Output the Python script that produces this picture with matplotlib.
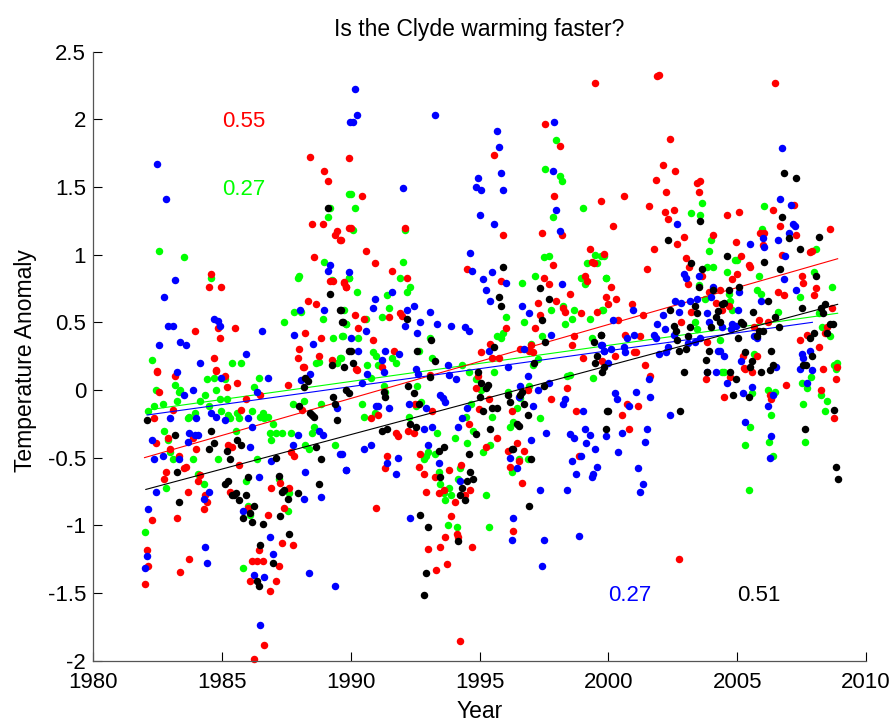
"""
Monthly temperature anomalies for the Clyde, with a linear trend for each site
"""

import numpy as np
import matplotlib.pyplot as plt

plt.rcParams['font.family'] = ['Liberation Sans', 'DejaVu Sans']

# (year, anomaly) pairs
green_points = [
    (1982.56,1.027),(1983.53,.98),(1984.57,.83),(1987.95,.83),(1988.01,.843),(1988.98,.948),(1989.13,1.279),(1989.19,1.343),
    (1989.95,1.449),(1987.82,.579),(1988.09,.579),(1988.92,.527),(1989.75,.591),(1987.4,.5),(1989.81,.488),(1989.27,.815),
    (1989.95,.825),(1982.29,.224),(1985.4,.2),(1985.75,.2),(1989.68,.397),(1989.33,.382),(1989.6,.239),(1988.65,.2),
    (1988.78,.21),(1989.48,.2),(1984.43,.079),(1984.71,.09),(1985.13,.079),(1986.43,.09),(1983.19,.04),(1982.43,0),
    (1983.39,0),(1983.33,-.015),(1984.78,0),(1986.23,.025),(1984.36,-.04),(1983.26,-.079),(1984.15,-.079),(1984.92,-.067),
    (1985.19,-.067),(1982.7,-.106),(1984.5,-.118),(1982.36,-.118),(1982.15,-.158),(1984.98,-.158),(1986.16,-.158),
    (1983.95,-.17),(1987.75,-.106),(1988.17,-.079),(1988.85,-.106),(1983.74,-.197),(1983.68,-.21),(1985.25,-.185),
    (1985.33,-.21),(1985.6,-.172),(1985.67,-.21),(1986.58,-.172),(1986.5,-.197),(1986.64,-.21),(1986.78,-.197),
    (1986.99,-.249),(1982.77,-.303),(1985.54,-.303),(1986.85,-.315),(1987.12,-.315),(1987.33,-.315),(1987.68,-.315),
    (1988.58,-.276),(1988.5,-.315),(1982.91,-.37),(1986.91,-.37),(1988.23,-.409),(1988.37,-.434),(1989.4,-.409),
    (1982.98,-.46),(1983.12,-.512),(1983.88,-.512),(1984.84,-.512),(1986.37,-.512),(1984.09,-.618),(1985.95,-.67),
    (1987.2,-.658),(1984.3,-.697),(1982.85,-.724),(1987.61,-.764),(1986.02,-.855),(1986.1,-.921),(1987.55,-.897),
    (1982.02,-1.052),(1985.81,-1.316),(1990.03,1.449),(1990.16,1.343),(1990.1,1.185),(1992.09,1.185),(1992.03,.948),
    (1989.95,.83),(1991.9,.83),(1990.24,.724),(1992.3,.764),(1992.17,.724),(1991.4,.7),(1991.48,.606),(1991.2,.539),
    (1990.58,.527),(1989.82,.488),(1989.7,.397),(1990.3,.382),(1990.85,.278),(1990.99,.251),(1991.61,.239),(1991.75,.2),
    (1990.65,.185),(1991.07,.185),(1989.63,.239),(1993.06,.382),(1992.65,.291),(1993.14,.239),(1994.32,.185),
    (1997.97,1.845),(1997.55,1.633),(1998.11,1.582),(1998.19,1.542),(1997.84,1.279),(1999.0,1.343),(1997.49,.98),
    (1997.69,.988),(1999.49,1.0),(1999.7,.988),(1999.84,.988),(1999.16,.936),(1999.56,.936),(1998.95,.83),(1999.08,.78),
    (1997.15,.843),(1996.66,.791),(1999.91,.83),(1998.25,.618),(1998.65,.594),(1997.76,.594),(1999.78,.594),(1996.04,.539),
    (1996.73,.5),(1998.59,.527),(1999.29,.527),(1998.32,.488),(1995.9,.421),(1995.69,.397),(1995.83,.382),(1997.41,.397),
    (1999.35,.382),(1997.01,.342),(1997.28,.229),(1997.07,.185),(1994.59,.13),(1995.55,.13),(1990.8,.09),(1994.85,.079),
    (1992.59,.027),(1991.28,.027),(1995.07,0),(1996.1,-.012),(1996.93,.027),(1996.59,-.06),(1998.39,.106),(1998.52,.11),
    (1999.41,.09),(1990.45,-.106),(1992.72,-.09),(1992.52,-.118),(1994.67,-.106),(1996.45,-.13),(1990.93,-.17),
    (1990.51,-.197),(1991.34,-.012),(1992.25,-.197),(1994.46,-.197),(1995.48,-.197),(1997.35,-.21),(1996.31,-.236),
    (1996.17,-.276),(1994.73,-.303),(1993.35,-.315),(1994.03,-.355),(1994.51,-.394),(1995.42,-.409),(1993.0,-.46),
    (1993.27,-.473),(1992.92,-.488),(1992.85,-.512),(1995.13,-.46),(1996.52,-.512),(1996.87,-.512),(1994.24,-.579),
    (1993.41,-.606),(1996.25,-.606),(1994.16,-.658),(1993.48,-.697),(1993.82,-.724),(1993.63,-.764),(1993.9,-.776),
    (1993.68,-.815),(1995.27,-.776),(1993.76,-1.0),(1994.11,-1.012),(1995.35,-1.012),(2003.64,1.384),(2003.22,1.306),
    (2003.56,1.293),(2006.05,1.357),(2005.98,1.187),(2003.99,1.106),(2003.91,1.027),(2008.05,1.04),(2004.91,.961),
    (2005.0,.961),(2003.84,.909),(2004.05,.909),(2004.6,.87),(2005.84,.843),(2007.97,.872),(1999.9,.83),(2003.5,.776),
    (2008.67,.764),(2005.77,.739),(2005.92,.712),(2007.43,.685),(2003.77,.673),(2004.67,.712),(2004.74,.66),(1999.77,.594),
    (2006.6,.579),(2004.8,.594),(2003.35,.5),(2008.19,.567),(2003.44,.448),(2008.31,.463),(2008.6,.397),(2004.32,.37),
    (2005.64,.263),(2008.75,.185),(2008.88,.197),(2008.82,.158),(2004.43,.13),(2004.48,.13),(2007.85,.094),(2007.5,.052),
    (2007.72,.012),(2006.19,0),(2006.47,-.012),(2005.57,-.025),(2008.26,-.04),(2008.48,-.079),(2007.57,-.106),(2008.4,-.158),
    (2006.33,-.185),(2005.5,-.276),(2006.25,-.382),(2007.64,-.382),(2005.29,-.409),(2006.4,-.488),(2005.44,-.737),
]
red_points = [
    (1984.57,.857),(1984.5,.764),(1984.98,.764),(1984.84,.461),(1985.53,.461),(1983.95,.434),(1984.91,.382),(1984.71,.239),
    (1984.78,.148),(1982.5,.138),(1988.43,1.725),(1988.98,1.621),(1989.13,1.542),(1989.95,1.712),(1988.5,1.227),(1988.92,1.227),
    (1989.48,1.173),(1989.4,1.146),(1989.6,1.106),(1989.95,1.2),(1988.57,.98),(1989.19,.803),(1989.33,.803),(1989.75,.791),
    (1989.81,.764),(1988.36,.66),(1988.65,.633),(1988.23,.421),(1988.85,.382),(1988.01,.303),(1987.95,.239),(1988.78,.251),
    (1989.27,.224),(1988.16,.172),(1982.5,.13),(1983.19,.103),(1984.78,.143),(1985.13,.103),(1985.19,.025),(1985.6,.052),
    (1982.56,-.015),(1987.55,.04),(1985.95,-.067),(1986.5,-.04),(1988.17,.17),(1985.75,-.145),(1983.12,-.145),(1982.36,-.21),
    (1988.12,-.148),(1982.91,-.355),(1983.88,-.355),(1982.43,-.394),(1982.98,-.434),(1984.01,-.434),(1985.25,-.409),
    (1985.4,-.421),(1983.33,-.488),(1987.68,-.46),(1987.82,-.488),(1985.67,-.554),(1983.6,-.567),(1983.53,-.579),
    (1982.85,-.606),(1982.77,-.658),(1984.15,-.63),(1984.09,-.67),(1987.26,-.685),(1986.91,-.724),(1987.61,-.724),
    (1983.68,-.751),(1985.33,-.751),(1984.36,-.776),(1984.43,-.83),(1984.3,-.882),(1986.02,-.87),(1987.4,-.87),
    (1982.29,-.96),(1983.26,-.948),(1986.78,-.921),(1982.08,-1.185),(1982.15,-1.303),(1982.02,-1.434),(1986.43,-1.185),
    (1987.33,-1.133),(1987.75,-1.146),(1983.74,-1.251),(1986.16,-1.264),(1986.37,-1.264),(1986.58,-1.264),(1987.2,-1.303),
    (1983.39,-1.343),(1986.1,-1.409),(1987.12,-1.409),(1986.85,-1.488),(1986.64,-1.882),(1986.23,-1.988),
    (1999.5,2.267),(1997.55,1.963),(1998.11,1.806),(1995.55,1.739),(1990.45,1.436),(1997.9,1.436),(1999.7,1.397),
    (1990.03,1.2),(1992.09,1.2),(1995.9,1.146),(1997.41,1.16),(1998.19,1.146),(1989.62,1.106),(1990.58,1.027),(1999.29,1.04),
    (1999.84,1.003),(1990.93,.936),(1994.51,.894),(1991.61,.882),(1992.17,.83),(1997.84,.921),(1999.35,.948),(1999.43,.936),
    (1999.08,.843),(1997.49,.83),(1999.16,.803),(1989.76,.796),(1989.82,.764),(1995.83,.803),(1997.69,.78),(1998.52,.712),
    (1997.28,.646),(1997.97,.66),(1999.91,.685),(1999.97,.633),(1998.24,.606),(1998.32,.579),(1998.94,.567),(1999.56,.579),
    (1991.9,.567),(1992.0,.547),(1990.16,.554),(1990.51,.527),(1991.48,.539),(1997.35,.554),(1990.3,.461),(1997.14,.461),
    (1996.04,.461),(1990.85,.37),(1998.65,.397),(1995.42,.342),(1998.59,.33),(1997.01,.33),(1996.59,.303),(1996.94,.291),
    (1997.07,.278),(1995.07,.278),(1991.69,.291),(1995.48,.239),(1995.75,.239),(1999.0,.239),(1991.2,.172),(1990.21,.153),
    (1999.75,.212),(1990.24,.145),(1993.06,.11),(1994.93,.106),(1994.86,.012),(1995.35,-.067),(1994.99,-.143),(1993.14,-.158),
    (1996.25,-.158),(1990.78,-.21),(1991.05,-.185),(1992.5,-.106),(1994.59,-.249),(1997.76,-.067),(1998.38,.012),(1998.73,-.158),
    (1996.87,0),(1991.75,-.315),(1991.82,-.342),(1992.23,-.3),(1992.44,-.315),(1995.69,-.355),(1996.45,-.394),(1995.26,-.421),
    (1996.09,-.448),(1996.73,-.448),(1992.71,-.473),(1991.4,-.488),(1998.86,-.488),(1994.3,-.552),(1996.52,-.527),(1991.34,-.579),
    (1992.65,-.567),(1996.17,-.567),(1993.82,-.591),(1992.85,-.618),(1993.27,-.645),(1996.66,-.685),(1994.65,-.737),
    (1993.62,-.737),(1992.93,-.751),(1993.41,-.764),(1994.45,-.776),(1994.03,-.83),(1991.0,-.87),(1993.9,-.934),(1994.11,-1.067),
    (1994.15,-1.084),(1996.31,-1.04),(1993.68,-1.09),(1993.48,-1.158),(1994.72,-1.158),(1992.99,-1.173),(1993.75,-1.289),
    (1993.33,-1.33),(1994.25,-1.858),(2001.97,2.33),(2001.9,2.318),(2006.46,2.267),(2002.38,1.858),(2002.11,1.66),(2002.6,1.621),
    (2001.84,1.555),(2003.43,1.53),(2003.56,1.542),(2003.5,1.461),(2002.25,1.461),(2000.6,1.436),(2001.57,1.357),(2002.54,1.33),
    (2002.19,1.316),(2004.6,1.291),(2005.09,1.318),(2006.4,1.33),(2007.22,1.37),(2002.32,1.264),(2000.18,1.212),(2006.68,1.212),
    (2008.61,1.187),(2004.05,1.146),(2005.9,1.16),(2006.06,1.16),(2002.95,1.133),(2007.3,1.146),(2004.95,1.094),(2002.67,1.082),
    (2005.99,1.069),(2001.77,1.042),(2007.9,1.025),(2007.82,1.018),(2005.15,.988),(2006.74,1.0),(2003.02,.976),(2003.15,.909),
    (2001.49,.897),(2005.45,.921),(2005.51,.909),(2003.64,.843),(2005.01,.857),(2004.8,.818),(2007.5,.843),(2007.57,.791),
    (2000.12,.764),(2003.08,.78),(2008.05,.751),(2006.6,.724),(2006.81,.7),(2007.97,.7),(2004.32,.739),(2003.91,.727),
    (2000.31,.673),(2000.93,.633),(2004.18,.646),(2003.22,.579),(2004.4,.594),(2004.67,.618),(2008.67,.606),(2000.39,.515),
    (2001.35,.554),(2002.81,.5),(2005.84,.515),(2006.19,.5),(2005.64,.463),(2008.47,.463),(2008.4,.424),(2001.22,.397),
    (2000.66,.409),(2007.71,.409),(2007.43,.37),(2003.83,.357),(2008.19,.318),(2000.25,.251),(2001.01,.278),(2001.09,.278),
    (2005.77,.251),(2005.23,.251),(2001.42,.185),(2008.88,.172),(2005.28,.16),(2008.34,.153),(2001.63,.106),(2008.82,.079),
    (2003.78,.079),(2005.29,.158),(2005.58,.13),(2004.74,.094),(2006.89,.04),(2004.47,-.052),(2008.26,0),(2006.27,-.04),
    (2006.33,-.067),(2000.74,-.106),(2001.15,-.118),(2000.53,-.185),(2000.8,-.288),(2008.75,-.21),(2002.73,-1.251),
]
blue_points = [
    (1982.50,1.673),(1982.85,1.409),(1983.19,.815),(1982.77,.685),(1982.91,.475),(1983.12,.475),(1982.56,.33),(1983.39,.355),
    (1983.60,.33),(1984.70,.527),(1984.84,.512),(1984.91,.475),(1984.16,.20),(1985.95,.263),(1986.56,.434),(1987.82,.409),
    (1988.52,.342),(1988.03,.591),(1988.98,.591),(1989.13,.882),(1989.19,.921),(1989.95,.87),(1989.97,1.978),(1983.26,.13),
    (1983.88,0),(1983.53,-.04),(1984.98,.09),(1986.78,.09),(1986.36,-.015),(1984.57,-.17),(1984.78,-.197),(1984.01,-.21),
    (1982.98,-.21),(1985.13,-.224),(1986.02,-.21),(1986.16,-.276),(1983.74,-.315),(1983.96,-.33),(1984.09,-.33),(1983.68,-.382),
    (1982.29,-.37),(1986.10,-.421),(1982.70,-.488),(1982.36,-.512),(1983.33,-.512),(1986.91,-.527),(1986.43,-.645),(1982.43,-.751),
    (1984.49,-.751),(1984.30,-.803),(1982.15,-.882),(1985.81,-.897),(1984.36,-1.16),(1984.43,-1.276),(1986.85,-1.09),
    (1986.99,-1.212),(1982.08,-1.225),(1982.02,-1.318),(1986.23,-1.37),(1986.64,-1.382),(1986.50,-1.737),(1988.37,-1.355),
    (1989.40,-1.449),(1988.09,.076),(1988.44,.118),(1989.48,-.133),(1987.75,-.409),(1987.96,-.33),(1988.78,-.303),(1988.92,-.33),
    (1988.23,-.606),(1988.17,-.803),(1988.85,-.789),(1989.60,-.473),(1989.81,-.591),(1990.16,2.227),(1990.23,2.03),(1990.10,1.978),
    (1993.27,2.03),(1992.03,1.49),(1991.6,.724),(1990.93,.673),(1990.85,.606),(1992.17,.594),(1992.44,.618),(1993.06,.579),
    (1992.71,.50),(1992.09,.475),(1993.35,.488),(1993.90,.475),(1994.45,.463),(1994.59,.434),(1992.58,.421),(1990.58,.436),
    (1990.02,.382),(1990.30,.291),(1991.34,.291),(1991.88,.263),(1991.20,.224),(1993.76,.185),(1992.52,.153),(1995.69,1.912),
    (1995.75,1.794),(1995.83,1.606),(1994.93,1.569),(1994.86,1.503),(1995.07,1.476),(1995.90,1.476),(1995.0,1.291),(1995.55,1.227),
    (1994.65,1.015),(1994.72,.882),(1995.48,.87),(1995.13,.818),(1996.04,.791),(1995.27,.739),(1995.42,.66),(1996.66,.618),
    (1996.94,.567),(1997.90,1.978),(1997.84,1.621),(1997.97,1.33),(1998.11,1.173),(1998.19,.78),(1997.76,.409),(1996.73,.303),
    (1995.35,.291),(1996.10,.172),(1999.72,.33),(1999.82,.29),(1999.97,.197),(1992.63,.118),(1991.28,.13),(1990.65,.118),
    (1990.45,.052),(1993.82,.108),(1994.08,.079),(1996.87,.106),(1996.59,.027),(1996.52,-.054),(1997.28,0),(1997.69,.052),
    (1993.48,-.034),(1993.58,-.06),(1993.68,-.09),(1992.25,-.106),(1990.99,-.118),(1991.05,-.118),(1991.48,-.13),(1992.93,-.13),
    (1994.52,-.13),(1997.07,-.118),(1998.25,-.106),(1998.32,-.067),(1999.0,-.158),(1994.32,-.21),(1994.17,-.276),(1992.85,-.288),
    (1993.14,-.276),(1997.57,-.315),(1996.99,-.37),(1993.0,-.409),(1990.78,-.409),(1990.51,-.434),(1989.66,-.473),(1998.52,-.328),
    (1998.67,-.355),(1999.08,-.288),(1999.29,-.33),(1999.15,-.394),(1999.49,-.434),(1999.9,-.343),(1998.59,-.527),(1998.94,-.488),
    (1998.73,-.618),(1999.56,-.567),(1999.42,-.618),(1999.35,-.645),(1991.83,-.5),(1991.40,-.54),(1991.75,-.618),(1989.82,-.591),
    (1993.41,-.54),(1996.17,-.5),(1996.45,-.579),(1997.35,-.737),(1998.38,-.737),(1994.24,-.67),(1992.30,-.948),(1996.31,-.948),
    (1996.25,-1.106),(1997.49,-1.106),(1998.86,-1.079),(1997.41,-1.303),(2006.74,1.791),(2006.68,1.409),(2007.09,1.37),
    (2007.15,1.227),(2007.24,1.212),(2002.67,1.227),(2007.02,1.16),(2005.99,1.12),(2006.60,1.109),(2005.50,1.08),(2006.05,1.054),
    (2006.87,.988),(2002.95,.857),(2003.02,.83),(2003.51,.843),(2006.81,.818),(2007.30,.739),(2004.05,.764),(2005.09,.724),
    (2003.99,.685),(2003.43,.673),(2003.16,.66),(2002.60,.66),(2002.81,.646),(2005.92,.66),(2002.73,.579),(2002.11,.554),
    (2005.02,.594),(2003.83,.567),(2000.94,.594),(2000.19,.515),(2001.90,.488),(2003.91,.503),(2002.19,.448),(2004.40,.463),
    (2004.80,.488),(2004.94,.475),(2004.75,.448),(2001.01,.409),(2001.77,.409),(2001.84,.382),(2000.74,.382),(2002.54,.409),
    (2003.56,.382),(2003.35,.357),(2003.08,.345),(2005.64,.397),(2005.77,.382),(2002.32,.318),(2000.6,.318),(1999.75,.33),
    (2000.10,.303),(1999.84,.291),(2000.66,.278),(2002.25,.278),(2001.98,.263),(2004.26,.291),(2004.32,.291),(2004.47,.251),
    (2005.15,.212),(2007.51,.263),(2007.57,.239),(2007.84,.291),(2006.49,.17),(2007.43,.158),(2007.92,.145),(2003.83,.13),
    (2004.18,.13),(2004.6,.052),(2005.57,.025),(2005.23,-.025),(2007.72,.052),(2006.4,-.04),(2006.2,-.118),(2001.57,.079),
    (2000.25,-.025),(2000.32,-.067),(2001.07,-.012),(2001.63,-.052),(2000.80,-.118),(2002.40,-.185),(2005.29,-.236),(2001.5,-.288),
    (2000.53,-.315),(2001.44,-.382),(2000.39,-.46),(2006.33,-.343),(2006.27,-.5),(2001.15,-.579),(2001.36,-.697),(2001.22,-.751),
]
black_points = [
    (1989.13,1.343),(1989.19,.712),(1989.6,.591),(1989.68,.5),(1989.95,.291),(1989.27,.185),(1989.75,.172),(1982.08,-.224),
    (1983.19,-.33),(1984.57,-.303),(1984.71,-.394),(1984.5,-.434),(1985.6,-.37),(1985.75,-.409),(1985.19,-.448),(1985.33,-.512),
    (1983.26,-.606),(1986.02,-.645),(1987.12,-.5),(1987.2,-.633),(1988.65,-.421),(1988.85,-.512),(1985.25,-.67),(1985.13,-.697),
    (1988.78,-.697),(1987.4,-.737),(1987.33,-.751),(1987.96,-.764),(1985.54,-.764),(1985.46,-.776),(1985.39,-.776),(1985.95,-.776),
    (1985.67,-.815),(1987.55,-.803),(1983.33,-.83),(1986.23,-.855),(1986.1,-.909),(1985.81,-.948),(1986.16,-.973),(1986.58,-.988),
    (1987.26,-.934),(1987.61,-1.067),(1986.5,-1.146),(1986.99,-1.276),(1986.37,-1.409),(1986.43,-1.449),(1988.23,.09),(1988.36,.064),
    (1988.17,.025),(1988.01,-.118),(1988.44,-.17),(1988.5,-.185),(1988.58,-.197),(1989.48,-.224),(1989.4,-.106),(1989.33,-.052),
    (1989.83,0),(1989.95,-.025),(1989.63,.591),(1989.7,.5),(1992.17,.527),(1990.02,.291),(1992.58,.291),(1993.13,.37),(1990.1,.2),
    (1993.27,.212),(1995.9,.909),(1995.77,.685),(1995.83,.618),(1997.33,.751),(1997.69,.673),(1997.41,.515),(1997.55,.357),
    (1995.55,.318),(1997.1,.197),(1999.7,.409),(1999.43,.357),(1999.56,.251),(1999.5,.197),(1999.84,.172),(1993.06,.094),
    (1992.23,.027),(1992.44,-.025),(1991.28,-.012),(1991.34,-.052),(1994.93,.13),(1995.07,.052),(1995.34,.04),(1995.26,.012),
    (1992.65,-.106),(1995.0,-.052),(1996.1,-.037),(1996.17,-.09),(1996.65,-.012),(1996.58,-.04),(1997.49,.027),(1996.73,-.106),
    (1995.14,-.158),(1995.48,-.13),(1995.69,-.13),(1996.87,-.185),(1996.45,-.249),(1996.52,-.264),(1992.3,-.249),(1992.52,-.276),
    (1991.4,-.288),(1991.2,-.3),(1995.42,-.288),(1994.85,-.328),(1993.62,-.421),(1993.41,-.448),(1996.25,-.434),(1996.31,-.434),
    (1994.59,-.473),(1997.01,-.512),(1994.65,-.606),(1993.48,-.645),(1994.73,-.658),(1994.51,-.67),(1994.32,-.724),(1994.24,-.776),
    (1994.45,-.815),(1996.94,-.855),(1992.71,-.921),(1993.0,-1.012),(1994.17,-1.118),(1992.93,-1.355),(1992.85,-1.515),(1999.77,.13),
    (1999.96,-.158),(1999.9,-.288),(2006.81,1.606),(2007.3,1.569),(2006.74,1.279),(2003.56,1.251),(2002.33,1.106),(2008.19,1.133),
    (2007.03,1.121),(2007.43,1.042),(2004.6,.988),(2003.22,.936),(2006.06,.948),(2003.64,.897),(2006.68,.897),(2008.05,.843),
    (2003.5,.764),(2005.09,.764),(2004.05,.739),(2004.67,.737),(2006.2,.66),(2004.47,.646),(2004.4,.633),(2003.35,.618),(2002.4,.594),
    (2007.51,.606),(2008.4,.633),(2008.26,.606),(2005.63,.579),(2004.26,.581),(2003.43,.567),(2008.34,.567),(2004.18,.542),
    (2006.47,.539),(2004.32,.503),(2002.54,.475),(2002.62,.436),(2003.16,.463),(2003.99,.463),(2005.15,.503),(2005.23,.488),
    (2008.62,.488),(2008.7,.488),(2006.61,.463),(2005.85,.436),(2005.99,.436),(2005.77,.397),(2008.47,.424),(2008.0,.424),
    (2007.84,.384),(2003.08,.397),(2002.67,.37),(2005.02,.382),(1999.73,.409),(2003.02,.303),(2002.73,.291),(2003.91,.291),
    (2006.33,.291),(2005.29,.278),(2007.92,.251),(2003.78,.224),(2005.57,.212),(2006.4,.185),(2005.5,.172),(2007.56,.185),
    (2007.68,.185),(2002.95,.13),(2003.83,.13),(2004.74,.13),(2004.95,.079),(2005.92,.13),(2006.27,.145),(2004.82,-.04),
    (2005.44,-.052),(1999.97,-.158),(2002.8,-.158),(2007.64,-.288),(2008.75,-.145),(2008.82,-.567),(2008.9,-.658),
]

# straight line fits, start and end of each
green_trend_year = [1982.1, 2008.9]
green_trend = [-0.148, 0.567]
red_trend_year = [1982.0, 2008.9]
red_trend = [-0.5, 0.97]
blue_trend_year = [1982.1, 2007.92]
blue_trend = [-0.185, 0.50]
black_trend_year = [1982.05, 2008.9]
black_trend = [-0.735, 0.633]

x_ticks = [1980, 1985, 1990, 1995, 2000, 2005, 2010]
y_ticks = [-2, -1.5, -1, -0.5, 0, 0.5, 1, 1.5, 2, 2.5]
y_tick_labels = ['-2', '-1.5', '-1', '-0.5', '0', '0.5', '1', '1.5', '2', '2.5']

series = [
    (green_points, green_trend_year, green_trend, '#00ff00'),
    (red_points, red_trend_year, red_trend, '#ff0000'),
    (blue_points, blue_trend_year, blue_trend, '#0000ff'),
    (black_points, black_trend_year, black_trend, '#000000'),
]

fig = plt.figure(figsize=(8.93, 7.2), dpi=100)
ax = fig.add_axes([93 / 893, 1 - 660.6 / 720, 773 / 893, 608.9 / 720])

for points, trend_year, trend, colour in series:
    points = np.array(points)
    ax.plot(trend_year, trend, '-', color=colour, lw=0.8)
    ax.plot(points[:, 0], points[:, 1], 'o', color=colour, ms=5.4, mew=0, clip_on=False)

ax.text(1985, 2.0, '0.55', color='#ff0000', fontsize=16, va='center_baseline')
ax.text(1985, 1.5, '0.27', color='#00ff00', fontsize=16, va='center_baseline')
ax.text(2000, -1.5, '0.27', color='#0000ff', fontsize=16, va='center_baseline')
ax.text(2005, -1.5, '0.51', color='#000000', fontsize=16, va='center_baseline')

ax.set_xlim(1980, 2010)
ax.set_ylim(-2, 2.5)
ax.set_xticks(x_ticks)
ax.set_yticks(y_ticks)
ax.set_yticklabels(y_tick_labels)
ax.tick_params(direction='in', length=6.8, width=0.8, labelsize=16)
ax.tick_params(axis='x', pad=8)
ax.tick_params(axis='y', pad=5)
for side in ['top', 'right']:
    ax.spines[side].set_visible(False)
for side in ['left', 'bottom']:
    ax.spines[side].set_color('#555555')
    ax.spines[side].set_linewidth(0.9)

ax.set_title('Is the Clyde warming faster?', fontsize=16.5, pad=11)
ax.set_xlabel('Year', fontsize=16.5, labelpad=5.5)
ax.set_ylabel('Temperature Anomaly', fontsize=16.5, labelpad=8, y=0.492)

fig.savefig('out.png', dpi=100)
